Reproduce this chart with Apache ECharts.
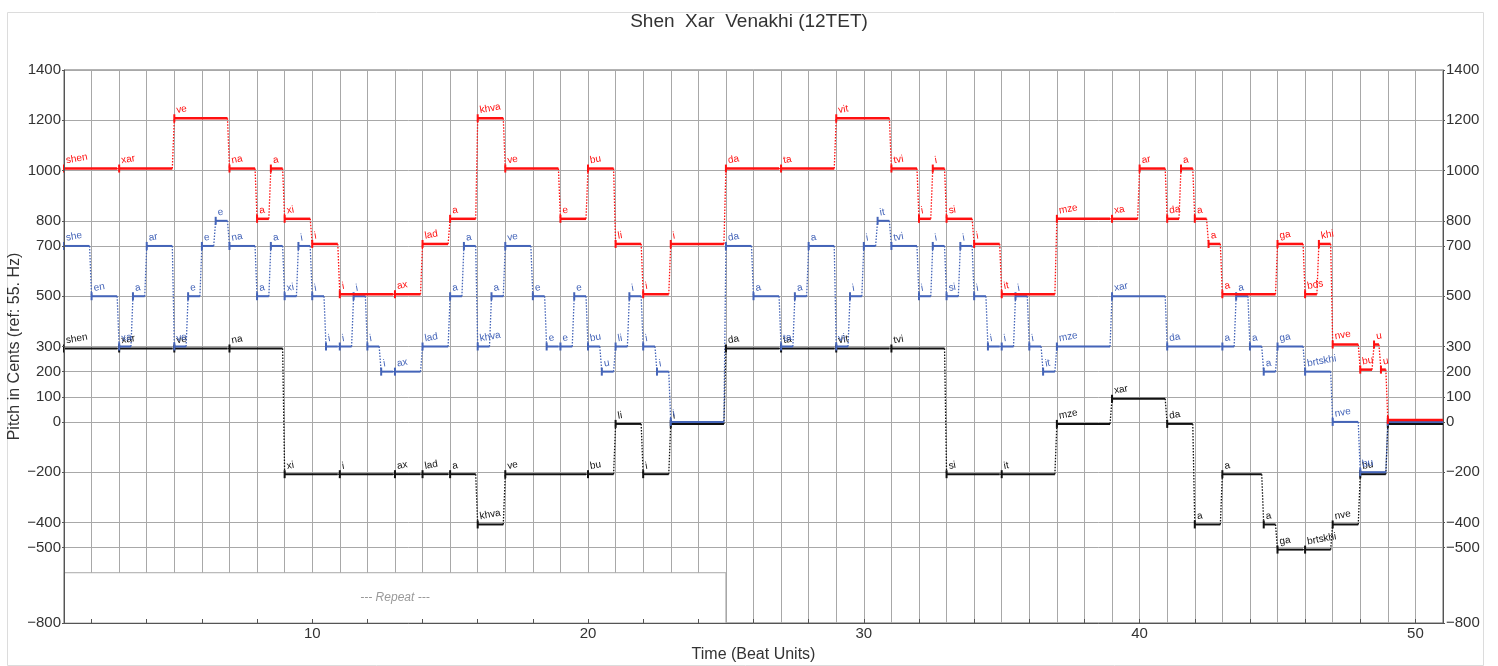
<!DOCTYPE html>
<html>
<head>
<meta charset="utf-8">
<title>Shen Xar Venakhi (12TET)</title>
<script src="https://cdn.jsdelivr.net/npm/echarts@6/dist/echarts.min.js"></script>
<style>
  html, body { margin: 0; padding: 0; background: #fff; }
  #chart { width: 1498px; height: 666px; }
</style>
</head>
<body>
<div id="chart"></div>
<script>
// top voice (red): note start beats, pitch in cents, syllables
const redStart = [1, 3, 5, 7, 8, 8.5, 9, 10, 11, 13, 14, 15, 16, 17, 19, 20, 21, 22, 23, 25, 27, 29, 31, 32, 32.5, 33, 34, 35, 37, 39, 40, 41, 41.5, 42, 42.5, 43, 45, 46, 46.5, 47, 48, 48.5, 48.75, 49];
const redPitch = [1000, 1000, 1200, 1000, 800, 1000, 800, 700, 500, 500, 700, 800, 1200, 1000, 800, 1000, 700, 500, 700, 1000, 1000, 1200, 1000, 800, 1000, 800, 700, 500, 800, 800, 1000, 800, 1000, 800, 700, 500, 700, 500, 700, 300, 200, 300, 200, 0];
const redSyl = ['shen', 'xar', 've', 'na', 'a', 'a', 'xi', 'i', 'i', 'ax', 'lad', 'a', 'khva', 've', 'e', 'bu', 'li', 'i', 'i', 'da', 'ta', 'vit', 'tvi', 'i', 'i', 'si', 'i', 'it', 'mze', 'xa', 'ar', 'da', 'a', 'a', 'a', 'a', 'ga', 'bds', 'khi', 'nve', 'bu', 'u', 'u', ''];

// middle voice (blue)
const blueStart = [1, 2, 3, 3.5, 4, 5, 5.5, 6, 6.5, 7, 8, 8.5, 9, 9.5, 10, 10.5, 11, 11.5, 12, 12.5, 13, 14, 15, 15.5, 16, 16.5, 17, 18, 18.5, 19, 19.5, 20, 20.5, 21, 21.5, 22, 22.5, 23, 25, 26, 27, 27.5, 28, 29, 29.5, 30, 30.5, 31, 32, 32.5, 33, 33.5, 34, 34.5, 35, 35.5, 36, 36.5, 37, 39, 41, 43, 43.5, 44, 44.5, 45, 46, 47, 48, 49];
const bluePitch = [700, 500, 300, 500, 700, 300, 500, 700, 800, 700, 500, 700, 500, 700, 500, 300, 300, 500, 300, 200, 200, 300, 500, 700, 300, 500, 700, 500, 300, 300, 500, 300, 200, 300, 500, 300, 200, 0, 700, 500, 300, 500, 700, 300, 500, 700, 800, 700, 500, 700, 500, 700, 500, 300, 300, 500, 300, 200, 300, 500, 300, 300, 500, 300, 200, 300, 200, 0, -200, 0];
const blueSyl = ['she', 'en', 'xa', 'a', 'ar', 've', 'e', 'e', 'e', 'na', 'a', 'a', 'xi', 'i', 'i', 'i', 'i', 'i', 'i', 'i', 'ax', 'lad', 'a', 'a', 'khva', 'a', 've', 'e', 'e', 'e', 'e', 'bu', 'u', 'li', 'i', 'i', 'i', 'i', 'da', 'a', 'ta', 'a', 'a', 'vi', 'i', 'i', 'it', 'tvi', 'i', 'i', 'si', 'i', 'i', 'i', 'i', 'i', 'i', 'it', 'mze', 'xar', 'da', 'a', 'a', 'a', 'a', 'ga', 'brtskhi', 'nve', 'bu', ''];

// bottom voice (black)
const blackStart = [1, 3, 5, 7, 9, 11, 13, 14, 15, 16, 17, 20, 21, 22, 23, 25, 27, 29, 31, 33, 35, 37, 39, 41, 42, 43, 44.5, 45, 46, 47, 48, 49];
const blackPitch = [300, 300, 300, 300, -200, -200, -200, -200, -200, -400, -200, -200, 0, -200, 0, 300, 300, 300, 300, -200, -200, 0, 100, 0, -400, -200, -400, -500, -500, -400, -200, 0];
const blackSyl = ['shen', 'xar', 've', 'na', 'xi', 'i', 'ax', 'lad', 'a', 'khva', 've', 'bu', 'li', 'i', 'i', 'da', 'ta', 'vit', 'tvi', 'si', 'it', 'mze', 'xar', 'da', 'a', 'a', 'a', 'ga', 'brtskhi', 'nve', 'bu', ''];

const songEnd = 51;
const repeatSpan = [1, 25];
const repeatPitch = [-600, -800];

const yTicks = [1400, 1200, 1000, 800, 700, 500, 300, 200, 100, 0, -200, -400, -500, -800];
const xTicks = [10, 20, 30, 40, 50];
const xMinorTicks = [2, 4, 6, 8, 10, 12, 14, 16, 18, 20, 22, 24, 26, 28, 30, 32, 34, 36, 38, 40, 42, 44, 46, 48, 50];

const FONT = 'Liberation Sans, Arial, sans-serif';

function voiceSeries(name, starts, pitches, syls, color, dy, width) {
  const notes = starts.map((s, i) => [s, i + 1 < starts.length ? starts[i + 1] : songEnd, pitches[i]]);
  const links = starts.slice(1).map((s, i) => [s, pitches[i], pitches[i + 1]]);
  return [
    {
      type: 'custom', name: name + ' links', z: 3, silent: true, data: links,
      renderItem: (params, api) => {
        const a = api.coord([api.value(0), api.value(1)]);
        const b = api.coord([api.value(0), api.value(2)]);
        return {
          type: 'line',
          shape: { x1: a[0] - 2, y1: a[1] + dy, x2: b[0], y2: b[1] + dy },
          style: { stroke: color, lineWidth: 1.3, lineDash: [1.5, 1.5] }
        };
      }
    },
    {
      type: 'custom', name: name, z: 4, silent: true, data: notes,
      renderItem: (params, api) => {
        const s = api.coord([api.value(0), api.value(2)]);
        const e = api.coord([api.value(1), api.value(2)]);
        const y = s[1] + dy;
        const last = params.dataIndex === notes.length - 1;
        return {
          type: 'group',
          children: [
            { type: 'line', shape: { x1: s[0], y1: y, x2: last ? e[0] : e[0] - 2, y2: y },
              style: { stroke: color, lineWidth: width } },
            { type: 'line', shape: { x1: s[0], y1: y - 4, x2: s[0], y2: y + 4 },
              style: { stroke: color, lineWidth: 2 } },
            { type: 'text', x: s[0] + 3, y: y - 3, rotation: 0.18,
              style: { text: syls[params.dataIndex], fill: color, fontSize: 10, fontFamily: FONT,
                       align: 'left', verticalAlign: 'bottom' } }
          ]
        };
      }
    }
  ];
}

const minus = v => String(v).replace('-', '\u2212');

const chart = echarts.init(document.getElementById('chart'));
chart.setOption({
  animation: false,
  backgroundColor: '#fff',
  title: {
    text: 'Shen  Xar  Venakhi (12TET)',
    left: 'center',
    top: 7,
    textStyle: { fontSize: 19, fontWeight: 'normal', color: '#333', fontFamily: FONT }
  },
  graphic: [{
    type: 'rect', left: 5, top: 10,
    shape: { width: 1476, height: 653 },
    style: { fill: 'none', stroke: '#dcdcdc', lineWidth: 1 },
    z: -1
  }],
  grid: {
    left: 64, right: 55, top: 70, bottom: 43,
    containLabel: false, outerBoundsMode: 'none',
    show: true, borderColor: '#666', borderWidth: 1
  },
  xAxis: [
    {
      type: 'value', min: 1, max: songEnd, interval: 1,
      axisLine: { show: false }, axisTick: { show: false }, axisLabel: { show: false },
      splitLine: { show: true, lineStyle: { color: '#a8a8a8', width: 1 } }
    },
    {
      type: 'value', min: 1, max: songEnd, interval: 1, position: 'bottom', z: 10,
      name: 'Time (Beat Units)', nameLocation: 'middle', nameGap: 24, nameMoveOverlap: false,
      nameTextStyle: { fontSize: 16, color: '#333', fontFamily: FONT },
      axisLine: { show: true, onZero: false, lineStyle: { color: '#555' } },
      axisTick: { show: true, inside: true, length: 4, customValues: xMinorTicks, lineStyle: { color: '#555' } },
      axisLabel: { customValues: xTicks, fontSize: 15, color: '#333', fontFamily: FONT, margin: 3,
                   formatter: v => (xTicks.includes(v) ? v : '') },
      splitLine: { show: false }
    }
  ],
  yAxis: [
    {
      type: 'value', min: -800, max: 1400, interval: 100, position: 'left', z: 10,
      name: 'Pitch in Cents (ref: 55. Hz)', nameLocation: 'middle', nameGap: 41, nameMoveOverlap: false,
      nameTextStyle: { fontSize: 16, color: '#333', fontFamily: FONT },
      axisLine: { show: true, onZero: false, lineStyle: { color: '#555' } },
      axisTick: { show: true, length: 2, customValues: yTicks, lineStyle: { color: '#555' } },
      axisLabel: { customValues: yTicks, fontSize: 15, color: '#333', fontFamily: FONT, margin: 3,
                   formatter: v => (yTicks.includes(v) ? minus(v) : '') },
      splitLine: { show: false }
    },
    {
      type: 'value', min: -800, max: 1400, interval: 100, position: 'right', z: 10,
      axisLine: { show: true, onZero: false, lineStyle: { color: '#555' } },
      axisTick: { show: true, length: 2, customValues: yTicks, lineStyle: { color: '#555' } },
      axisLabel: { customValues: yTicks, fontSize: 15, color: '#333', fontFamily: FONT, margin: 3,
                   formatter: v => (yTicks.includes(v) ? minus(v) : '') },
      splitLine: { show: false }
    }
  ],
  series: [
    {
      type: 'line', name: 'grid', data: [], silent: true, z: 1,
      markLine: {
        z: 1, silent: true, symbol: 'none', animation: false,
        label: { show: false },
        lineStyle: { color: '#a8a8a8', type: 'solid', width: 1 },
        data: yTicks.filter(v => v > -800).map(v => ({ yAxis: v }))
      },
      markArea: {
        z: 1, silent: true,
        itemStyle: { color: '#fff', borderColor: '#a8a8a8', borderWidth: 1 },
        label: { show: true, position: 'inside', formatter: '--- Repeat ---', color: '#999',
                 fontStyle: 'italic', fontSize: 12, fontFamily: FONT },
        data: [[{ xAxis: repeatSpan[0], yAxis: repeatPitch[0] }, { xAxis: repeatSpan[1], yAxis: repeatPitch[1] }]]
      }
    },
    ...voiceSeries('black', blackStart, blackPitch, blackSyl, '#111111', 2, 2),
    ...voiceSeries('blue', blueStart, bluePitch, blueSyl, '#4464b8', 0, 2),
    ...voiceSeries('red', redStart, redPitch, redSyl, '#ff1010', -2, 2.5)
  ]
});
</script>
</body>
</html>
